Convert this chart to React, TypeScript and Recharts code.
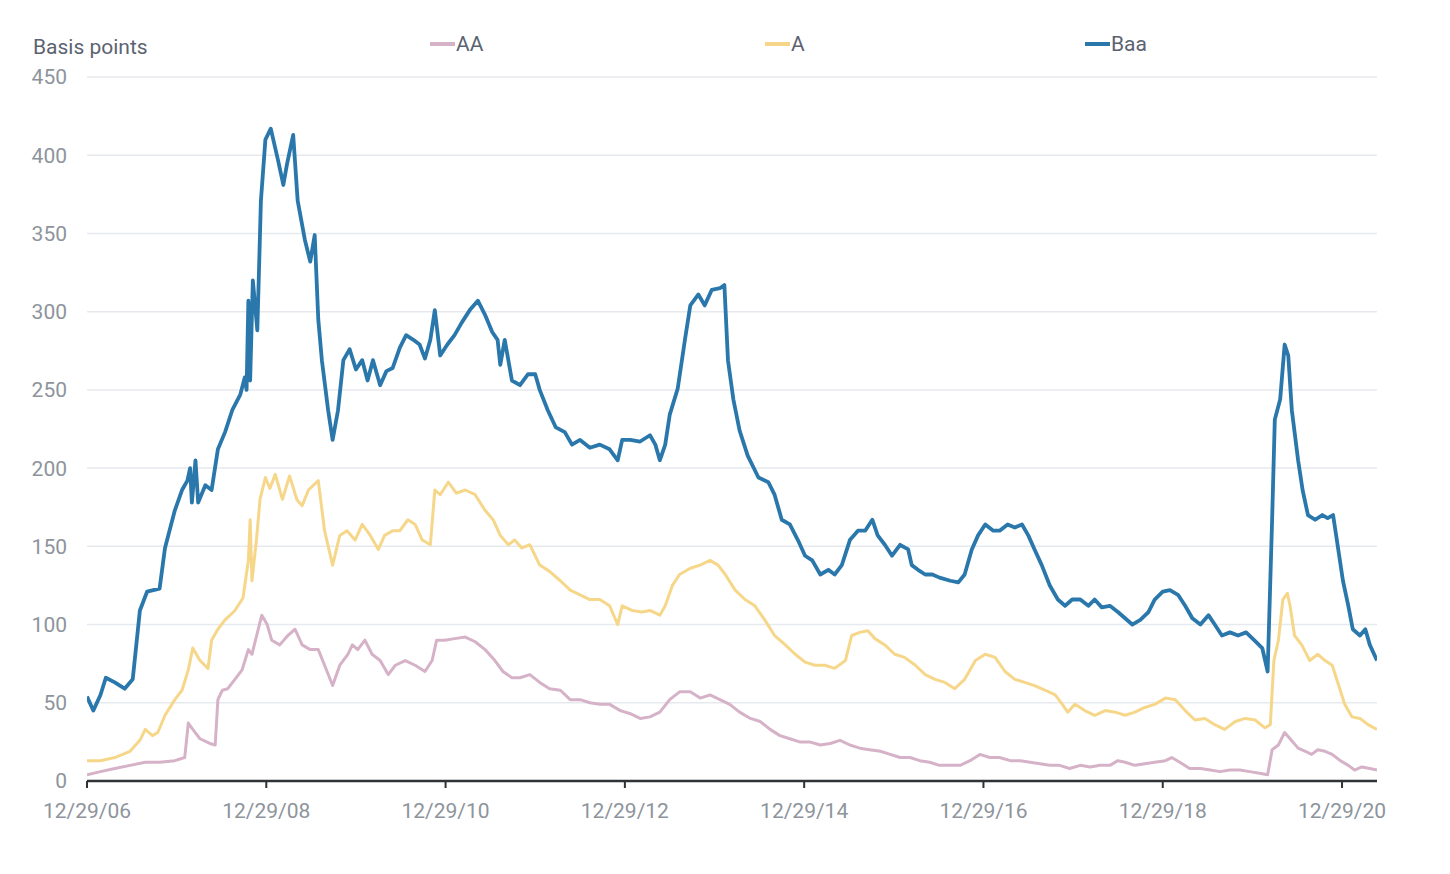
import { CartesianGrid, Line, LineChart, XAxis, YAxis } from "recharts";

// [year, basis points]; 2007.0 is 12/29/06
const baaSpread: [number, number][] = [
  [2007.0, 54], [2007.07, 45], [2007.15, 55], [2007.21, 66], [2007.31, 63], [2007.42, 59], [2007.51, 65],
  [2007.59, 109], [2007.67, 121], [2007.81, 123], [2007.87, 149], [2007.98, 173], [2008.06, 186], [2008.12, 192],
  [2008.15, 200], [2008.17, 178], [2008.21, 205], [2008.24, 178], [2008.32, 189], [2008.39, 186], [2008.46, 212],
  [2008.54, 223], [2008.62, 237], [2008.71, 247], [2008.76, 258], [2008.78, 250], [2008.8, 307], [2008.82, 256],
  [2008.85, 320], [2008.9, 288], [2008.94, 371], [2008.99, 410], [2009.05, 417], [2009.13, 397], [2009.19, 381],
  [2009.23, 394], [2009.3, 413], [2009.35, 371], [2009.43, 346], [2009.49, 332], [2009.54, 349], [2009.58, 295],
  [2009.62, 269], [2009.69, 237], [2009.74, 218], [2009.8, 237], [2009.86, 269], [2009.93, 276], [2010.0, 263],
  [2010.07, 269], [2010.13, 256], [2010.19, 269], [2010.27, 253], [2010.34, 262], [2010.41, 264], [2010.49, 277],
  [2010.56, 285], [2010.64, 282], [2010.71, 279], [2010.77, 270], [2010.83, 282], [2010.88, 301], [2010.94, 272],
  [2011.02, 279], [2011.1, 285], [2011.18, 293], [2011.27, 301], [2011.36, 307], [2011.44, 298], [2011.52, 287],
  [2011.58, 282], [2011.61, 266], [2011.66, 282], [2011.74, 256], [2011.83, 253], [2011.92, 260], [2012.0, 260],
  [2012.05, 250], [2012.14, 237], [2012.23, 226], [2012.33, 223], [2012.41, 215], [2012.5, 218], [2012.61, 213],
  [2012.72, 215], [2012.83, 212], [2012.92, 205], [2012.97, 218], [2013.06, 218], [2013.17, 217], [2013.28, 221],
  [2013.34, 215], [2013.39, 205], [2013.45, 215], [2013.5, 234], [2013.59, 251], [2013.67, 282], [2013.73, 304],
  [2013.82, 311], [2013.89, 304], [2013.97, 314], [2014.06, 315], [2014.11, 317], [2014.15, 269], [2014.21, 244],
  [2014.28, 224], [2014.37, 208], [2014.49, 194], [2014.6, 191], [2014.67, 183], [2014.75, 167], [2014.84, 164],
  [2014.93, 154], [2015.01, 144], [2015.09, 141], [2015.18, 132], [2015.27, 135], [2015.34, 132], [2015.42, 138],
  [2015.51, 154], [2015.6, 160], [2015.68, 160], [2015.76, 167], [2015.82, 157], [2015.9, 151], [2015.98, 144],
  [2016.07, 151], [2016.16, 148], [2016.2, 138], [2016.27, 135], [2016.35, 132], [2016.43, 132], [2016.51, 130],
  [2016.63, 128], [2016.72, 127], [2016.79, 132], [2016.87, 148], [2016.94, 157], [2017.02, 164], [2017.11, 160],
  [2017.18, 160], [2017.27, 164], [2017.35, 162], [2017.43, 164], [2017.5, 157], [2017.57, 148], [2017.65, 138],
  [2017.74, 125], [2017.83, 116], [2017.91, 112], [2017.99, 116], [2018.08, 116], [2018.17, 112], [2018.24, 116],
  [2018.32, 111], [2018.41, 112], [2018.5, 108], [2018.58, 104], [2018.66, 100], [2018.75, 103], [2018.84, 108],
  [2018.91, 116], [2019.0, 121], [2019.08, 122], [2019.17, 119], [2019.25, 112], [2019.33, 104], [2019.42, 100],
  [2019.51, 106], [2019.58, 100], [2019.66, 93], [2019.75, 95], [2019.84, 93], [2019.93, 95], [2020.02, 90],
  [2020.11, 85], [2020.17, 70], [2020.22, 167], [2020.25, 231], [2020.31, 244], [2020.36, 279], [2020.4, 272],
  [2020.44, 237], [2020.51, 205], [2020.56, 186], [2020.62, 170], [2020.7, 167], [2020.78, 170], [2020.84, 168],
  [2020.9, 170], [2020.95, 151], [2021.01, 128], [2021.07, 112], [2021.12, 97], [2021.2, 93], [2021.26, 97],
  [2021.31, 87], [2021.39, 77],
];

const aSpread: [number, number][] = [
  [2007.0, 13], [2007.15, 13], [2007.31, 15], [2007.48, 19], [2007.59, 26], [2007.65, 33], [2007.73, 29],
  [2007.79, 31], [2007.87, 42], [2007.98, 52], [2008.06, 58], [2008.13, 71], [2008.18, 85], [2008.26, 77],
  [2008.35, 72], [2008.39, 90], [2008.46, 97], [2008.54, 103], [2008.65, 109], [2008.74, 117], [2008.8, 141],
  [2008.82, 167], [2008.84, 128], [2008.89, 154], [2008.93, 180], [2008.99, 194], [2009.04, 187], [2009.1, 196],
  [2009.18, 180], [2009.26, 195], [2009.34, 180], [2009.4, 176], [2009.47, 186], [2009.58, 192], [2009.65, 160],
  [2009.74, 138], [2009.82, 157], [2009.9, 160], [2009.99, 154], [2010.07, 164], [2010.16, 157], [2010.25, 148],
  [2010.32, 157], [2010.41, 160], [2010.49, 160], [2010.58, 167], [2010.66, 164], [2010.74, 154], [2010.83, 151],
  [2010.88, 186], [2010.94, 183], [2011.03, 191], [2011.12, 184], [2011.22, 186], [2011.33, 183], [2011.44, 173],
  [2011.53, 167], [2011.61, 157], [2011.7, 151], [2011.77, 154], [2011.85, 149], [2011.94, 151], [2012.05, 138],
  [2012.16, 134], [2012.28, 128], [2012.39, 122], [2012.5, 119], [2012.61, 116], [2012.72, 116], [2012.83, 112],
  [2012.92, 100], [2012.97, 112], [2013.08, 109], [2013.19, 108], [2013.28, 109], [2013.39, 106], [2013.45, 112],
  [2013.53, 125], [2013.61, 132], [2013.73, 136], [2013.84, 138], [2013.95, 141], [2014.04, 138], [2014.12, 132],
  [2014.23, 122], [2014.34, 116], [2014.45, 112], [2014.56, 103], [2014.67, 93], [2014.79, 87], [2014.9, 81],
  [2015.01, 76], [2015.12, 74], [2015.23, 74], [2015.34, 72], [2015.46, 77], [2015.53, 93], [2015.62, 95],
  [2015.71, 96], [2015.79, 91], [2015.9, 87], [2016.01, 81], [2016.12, 79], [2016.24, 74], [2016.35, 68],
  [2016.46, 65], [2016.57, 63], [2016.68, 59], [2016.79, 65], [2016.91, 77], [2017.02, 81], [2017.13, 79],
  [2017.24, 70], [2017.35, 65], [2017.46, 63], [2017.57, 61], [2017.69, 58], [2017.8, 55], [2017.88, 49],
  [2017.94, 44], [2018.02, 49], [2018.13, 45], [2018.24, 42], [2018.36, 45], [2018.47, 44], [2018.58, 42],
  [2018.69, 44], [2018.8, 47], [2018.91, 49], [2019.03, 53], [2019.14, 52], [2019.25, 45], [2019.36, 39],
  [2019.47, 40], [2019.58, 36], [2019.69, 33], [2019.81, 38], [2019.92, 40], [2020.03, 39], [2020.14, 34],
  [2020.2, 36], [2020.24, 77], [2020.29, 90], [2020.34, 116], [2020.39, 120], [2020.42, 112], [2020.47, 93],
  [2020.55, 87], [2020.64, 77], [2020.73, 81], [2020.81, 77], [2020.89, 74], [2020.98, 58], [2021.03, 49],
  [2021.11, 41], [2021.2, 40], [2021.29, 36], [2021.39, 33],
];

const aaSpread: [number, number][] = [
  [2007.0, 4], [2007.15, 6], [2007.31, 8], [2007.48, 10], [2007.65, 12], [2007.81, 12], [2007.98, 13],
  [2008.09, 15], [2008.13, 37], [2008.18, 33], [2008.26, 27], [2008.37, 24], [2008.43, 23], [2008.46, 52],
  [2008.51, 58], [2008.57, 59], [2008.65, 65], [2008.73, 71], [2008.8, 84], [2008.84, 81], [2008.91, 97],
  [2008.95, 106], [2009.01, 100], [2009.06, 90], [2009.15, 87], [2009.24, 93], [2009.32, 97], [2009.4, 87],
  [2009.49, 84], [2009.58, 84], [2009.65, 74], [2009.74, 61], [2009.82, 74], [2009.91, 81], [2009.96, 87],
  [2010.02, 84], [2010.1, 90], [2010.18, 81], [2010.27, 77], [2010.36, 68], [2010.44, 74], [2010.55, 77],
  [2010.66, 74], [2010.77, 70], [2010.85, 77], [2010.9, 90], [2010.99, 90], [2011.1, 91], [2011.22, 92],
  [2011.33, 89], [2011.44, 84], [2011.55, 77], [2011.64, 70], [2011.74, 66], [2011.83, 66], [2011.94, 68],
  [2012.05, 63], [2012.16, 59], [2012.28, 58], [2012.39, 52], [2012.5, 52], [2012.61, 50], [2012.72, 49],
  [2012.83, 49], [2012.95, 45], [2013.06, 43], [2013.17, 40], [2013.28, 41], [2013.39, 44], [2013.5, 52],
  [2013.61, 57], [2013.73, 57], [2013.84, 53], [2013.95, 55], [2014.06, 52], [2014.17, 49], [2014.28, 44],
  [2014.4, 40], [2014.51, 38], [2014.62, 33], [2014.73, 29], [2014.84, 27], [2014.95, 25], [2015.06, 25],
  [2015.18, 23], [2015.29, 24], [2015.4, 26], [2015.51, 23], [2015.62, 21], [2015.73, 20], [2015.85, 19],
  [2015.96, 17], [2016.07, 15], [2016.18, 15], [2016.29, 13], [2016.4, 12], [2016.51, 10], [2016.63, 10],
  [2016.74, 10], [2016.85, 13], [2016.96, 17], [2017.07, 15], [2017.18, 15], [2017.3, 13], [2017.41, 13],
  [2017.52, 12], [2017.63, 11], [2017.74, 10], [2017.85, 10], [2017.96, 8], [2018.08, 10], [2018.19, 9],
  [2018.3, 10], [2018.41, 10], [2018.5, 13], [2018.58, 12], [2018.69, 10], [2018.8, 11], [2018.91, 12],
  [2019.03, 13], [2019.1, 15], [2019.19, 12], [2019.3, 8], [2019.42, 8], [2019.53, 7], [2019.64, 6],
  [2019.75, 7], [2019.86, 7], [2019.97, 6], [2020.08, 5], [2020.17, 4], [2020.22, 20], [2020.29, 23],
  [2020.36, 31], [2020.42, 27], [2020.51, 21], [2020.59, 19], [2020.66, 17], [2020.73, 20], [2020.81, 19],
  [2020.89, 17], [2020.98, 13], [2021.07, 10], [2021.14, 7], [2021.22, 9], [2021.31, 8], [2021.39, 7],
];

const xTicks = [2007, 2009, 2011, 2013, 2015, 2017, 2019, 2021];
const xTickLabels = ["12/29/06", "12/29/08", "12/29/10", "12/29/12", "12/29/14", "12/29/16", "12/29/18", "12/29/20"];
const yTicks = [0, 50, 100, 150, 200, 250, 300, 350, 400, 450];

const series = [
  { name: "AA", data: aaSpread, color: "#d5b2c7", width: 3, legendX: 430 },
  { name: "A", data: aSpread, color: "#f6d78a", width: 3, legendX: 765 },
  { name: "Baa", data: baaSpread, color: "#2a77ac", width: 3.8, legendX: 1085 },
];

const toPoints = (rows: [number, number][]) => rows.map(([year, value]) => ({ year, value }));

const FONT = "Roboto, 'Noto Sans', sans-serif";

export default function App() {
  return (
    <div style={{ position: "absolute", left: 0, top: 0, width: 1450, height: 874, background: "#fff", fontFamily: FONT }}>
      <div style={{ position: "absolute", left: 33, top: 35, fontSize: 21, color: "#5b6370", lineHeight: "24px" }}>Basis points</div>
      {series.map((s) => (
        <div
          key={s.name}
          style={{
            position: "absolute",
            left: s.legendX,
            top: 32,
            display: "flex",
            alignItems: "center",
            fontSize: 21,
            lineHeight: "24px",
            color: "#5b6370",
          }}
        >
          <span style={{ display: "inline-block", width: 25, height: 3.5, background: s.color, marginRight: 1 }} />
          <span>{s.name}</span>
        </div>
      ))}
      <LineChart width={1450} height={874} margin={{ top: 77, right: 73, bottom: 63, left: 27 }}>
        <CartesianGrid horizontal vertical={false} stroke="#e6e9ed" strokeWidth={1.5} />
        <XAxis
          dataKey="year"
          type="number"
          domain={[2007, 2021.39]}
          ticks={xTicks}
          tickFormatter={(v) => xTickLabels[xTicks.indexOf(v as number)] ?? ""}
          allowDataOverflow
          axisLine={{ stroke: "#2f3336", strokeWidth: 2.5 }}
          tickLine={{ stroke: "#2f3336", strokeWidth: 2 }}
          tickSize={7}
          tickMargin={15}
          tick={{ fontSize: 21, fill: "#8d949c", fontFamily: FONT }}
          height={30}
        />
        <YAxis
          type="number"
          domain={[0, 450]}
          ticks={yTicks}
          axisLine={false}
          tickLine={false}
          tickSize={0}
          tickMargin={20}
          width={60}
          tick={{ fontSize: 21, fill: "#8d949c", fontFamily: FONT }}
        />
        {series.map((s) => (
          <Line
            key={s.name}
            data={toPoints(s.data)}
            dataKey="value"
            name={s.name}
            type="linear"
            stroke={s.color}
            strokeWidth={s.width}
            strokeLinejoin="round"
            dot={false}
            activeDot={false}
            isAnimationActive={false}
          />
        ))}
      </LineChart>
    </div>
  );
}
